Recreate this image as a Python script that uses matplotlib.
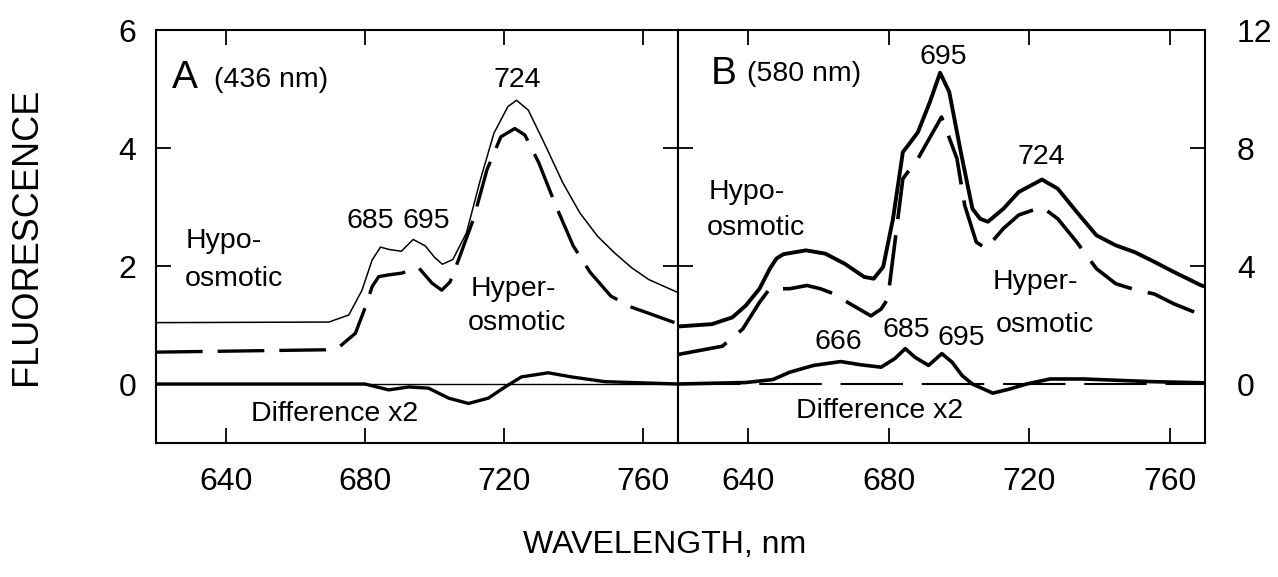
import matplotlib
matplotlib.use("Agg")
import matplotlib.pyplot as plt

plt.rcParams["font.family"] = ["Liberation Sans", "DejaVu Sans"]

# ---- data (wavelength nm, fluorescence) ----
# panel A, excitation 436 nm, left axis units
a_hypo_nm = [620, 669.7, 675.4, 679.2, 682.1, 684.5, 687, 690.5, 693.9, 697.4, 700,
             702.3, 705.3, 709.2, 713.2, 717.1, 721.1, 723.6, 727, 732, 736.9,
             741.8, 746.8, 751.8, 756.7, 761.6, 770]
a_hypo = [1.04, 1.05, 1.17, 1.59, 2.10, 2.32, 2.28, 2.25, 2.45, 2.34, 2.15,
          2.03, 2.11, 2.56, 3.46, 4.25, 4.70, 4.81, 4.64, 4.03, 3.41,
          2.90, 2.51, 2.22, 1.97, 1.77, 1.55]

a_hyper_nm = [620, 668.7, 672.5, 677.3, 680.2, 682.1, 684, 686.9, 690.7, 693, 695.5,
              699.3, 702.1, 704.5, 706.9, 711.2, 715.1, 719.1, 723.1, 726, 730,
              734.9, 739.9, 744.8, 750.7, 756.7, 761.5, 770]
a_hyper = [0.54, 0.58, 0.62, 0.86, 1.31, 1.65, 1.82, 1.85, 1.88, 1.93, 1.97,
           1.71, 1.59, 1.73, 2.10, 2.79, 3.63, 4.19, 4.33, 4.22, 3.75,
           3.02, 2.34, 1.89, 1.49, 1.30, 1.20, 1.02]

a_diff_nm = [620, 680, 686.9, 692.6, 698.3, 704.1, 709.8, 715.5, 720.3, 725,
             732.7, 739.4, 748.9, 770]
a_diff = [0.0, 0.0, -0.10, -0.05, -0.07, -0.24, -0.33, -0.24, -0.05, 0.12,
          0.19, 0.12, 0.04, 0.0]

# panel B, excitation 580 nm, right axis units
b_hypo_nm = [620, 629.7, 635.5, 639.3, 643.2, 646.1, 648, 650, 656.4, 661.9, 667.4,
             673, 675.7, 678.4, 681.2, 684, 686.2, 688.3, 691.7, 694.6, 697.2,
             700.5, 703.8, 706, 708.2, 712.6, 717, 723.6, 728.1, 733.5, 739.1,
             744.6, 750, 755.6, 761.1, 768.8, 770]
b_hypo = [1.95, 2.03, 2.26, 2.66, 3.23, 3.90, 4.25, 4.40, 4.53, 4.42, 4.08,
          3.63, 3.57, 3.97, 5.60, 7.86, 8.20, 8.54, 9.56, 10.55, 9.90,
          7.86, 5.94, 5.60, 5.50, 5.94, 6.51, 6.93, 6.62, 5.83, 5.04,
          4.70, 4.47, 4.14, 3.80, 3.35, 3.30]

b_hyper_nm = [620, 632.6, 638.4, 643.2, 646.1, 651.8, 656.7, 660.5, 664.3, 669.1,
              674.9, 677.8, 679.7, 681.7, 684, 688.3, 695, 699.4, 701.6, 704.9,
              707.7, 712.6, 717, 723.6, 728.1, 733.5, 739.1, 744.6, 750, 755.6,
              761.1, 768.8, 770]
b_hyper = [1.00, 1.28, 1.86, 2.77, 3.23, 3.23, 3.34, 3.23, 3.06, 2.71,
           2.31, 2.54, 2.88, 4.77, 6.96, 7.64, 9.05, 7.64, 6.06, 4.81,
           4.59, 5.27, 5.73, 6.00, 5.60, 4.81, 3.91, 3.40, 3.20, 3.05,
           2.72, 2.35, 2.30]

b_diff_nm = [620, 639.3, 647, 651.8, 658.6, 666.3, 672.1, 677.8, 681.7, 684.7,
             687.4, 691.3, 695.1, 698, 700.9, 703.8, 709.6, 714.4, 719.2, 725.9,
             735.5, 754.8, 770]
b_diff = [0.0, 0.05, 0.15, 0.40, 0.63, 0.76, 0.65, 0.57, 0.86, 1.20,
          0.91, 0.63, 1.03, 0.74, 0.28, 0.0, -0.31, -0.17, 0.0, 0.17,
          0.17, 0.08, 0.04]

x_ticks = [640, 680, 720, 760]
a_yticks = [0, 2, 4, 6]
b_yticks = [0, 4, 8, 12]

TICK_FS = 23
NOTE_FS = 20.5
LETTER_FS = 28
DASH = (14, 4.5)

fig = plt.figure(figsize=(12.78, 5.77), dpi=100)
bottom = 1 - 443 / 577
height = 413 / 577
axA = fig.add_axes([156 / 1278, bottom, 522 / 1278, height])
axB = fig.add_axes([678 / 1278, bottom, 527 / 1278, height])


def style_axes(ax, yticks, label_side):
    ax.set_xlim(620, 770)
    ax.set_xticks(x_ticks)
    ax.set_yticks(yticks)
    for sp in ax.spines.values():
        sp.set_linewidth(1.5)
    ax.tick_params(axis="both", direction="in", length=11, width=1.3,
                   top=True, bottom=True, left=True, right=True,
                   labelsize=TICK_FS)
    ax.tick_params(axis="x", pad=17)
    if label_side == "left":
        ax.tick_params(axis="y", labelleft=True, labelright=False, pad=14)
    else:
        ax.tick_params(axis="y", labelleft=False, labelright=True, pad=23)


def curve(ax, x, y, **kw):
    ax.plot(x, y, color="black", solid_joinstyle="round",
            dash_joinstyle="round", solid_capstyle="round", **kw)


# ---- panel A ----
axA.set_ylim(-1, 6)
style_axes(axA, a_yticks, "left")
axA.axhline(0, color="black", lw=1.0)
curve(axA, a_hypo_nm, a_hypo, lw=1.1)
curve(axA, a_hyper_nm, a_hyper, lw=2.4, dashes=DASH)
curve(axA, a_diff_nm, a_diff, lw=2.4)

axA.text(624.6, 5.18, "A", fontsize=LETTER_FS, ha="left", va="center")
axA.text(636.6, 5.15, "(436 nm)", fontsize=NOTE_FS, ha="left", va="center")
axA.text(723.7, 5.15, "724", fontsize=NOTE_FS, ha="center", va="center")
axA.text(681.6, 2.76, "685", fontsize=NOTE_FS, ha="center", va="center")
axA.text(697.7, 2.76, "695", fontsize=NOTE_FS, ha="center", va="center")
axA.text(628.6, 2.42, "Hypo-", fontsize=NOTE_FS, ha="left", va="center")
axA.text(628.2, 1.78, "osmotic", fontsize=NOTE_FS, ha="left", va="center")
axA.text(710.3, 1.61, "Hyper-", fontsize=NOTE_FS, ha="left", va="center")
axA.text(709.7, 1.04, "osmotic", fontsize=NOTE_FS, ha="left", va="center")
axA.text(671.2, -0.51, "Difference x2", fontsize=NOTE_FS, ha="center", va="center")

# ---- panel B ----
axB.set_ylim(-2, 12)
style_axes(axB, b_yticks, "right")
axB.plot([620, 770], [0, 0], color="black", lw=1.5, dashes=(30, 9))
curve(axB, b_hypo_nm, b_hypo, lw=2.8)
curve(axB, b_hyper_nm, b_hyper, lw=2.6, dashes=DASH)
curve(axB, b_diff_nm, b_diff, lw=2.6)

axB.text(629.2, 10.51, "B", fontsize=LETTER_FS, ha="left", va="center")
axB.text(639.7, 10.51, "(580 nm)", fontsize=NOTE_FS, ha="left", va="center")
axB.text(695.6, 11.08, "695", fontsize=NOTE_FS, ha="center", va="center")
axB.text(723.5, 7.69, "724", fontsize=NOTE_FS, ha="center", va="center")
axB.text(628.7, 6.51, "Hypo-", fontsize=NOTE_FS, ha="left", va="center")
axB.text(628.3, 5.29, "osmotic", fontsize=NOTE_FS, ha="left", va="center")
axB.text(709.5, 3.46, "Hyper-", fontsize=NOTE_FS, ha="left", va="center")
axB.text(710.5, 2.01, "osmotic", fontsize=NOTE_FS, ha="left", va="center")
axB.text(665.7, 1.44, "666", fontsize=NOTE_FS, ha="center", va="center")
axB.text(685.1, 1.84, "685", fontsize=NOTE_FS, ha="center", va="center")
axB.text(700.7, 1.56, "695", fontsize=NOTE_FS, ha="center", va="center")
axB.text(677.5, -0.92, "Difference x2", fontsize=NOTE_FS, ha="center", va="center")

# axis titles (shared)
fig.text(27 / 1278, 1 - 236 / 577, "FLUORESCENCE", fontsize=26, rotation=90,
         ha="center", va="center")
fig.text(665 / 1278, 1 - 545 / 577, "WAVELENGTH, nm", fontsize=23,
         ha="center", va="center")

fig.savefig("out.png", dpi=100)
